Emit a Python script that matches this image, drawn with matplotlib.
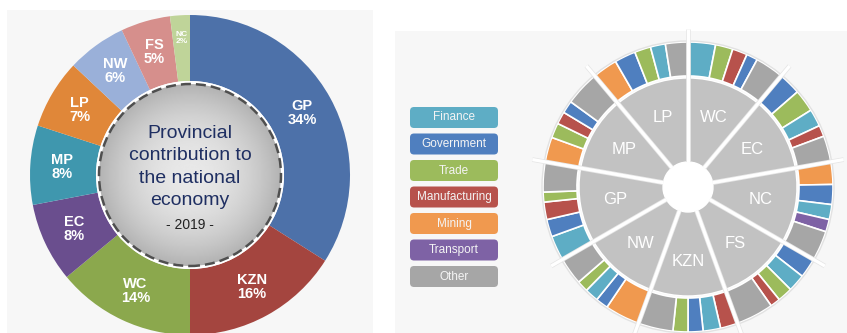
import numpy as np
import matplotlib
matplotlib.use("Agg")
import matplotlib.pyplot as plt
from matplotlib.patches import Circle, FancyBboxPatch, Rectangle
import matplotlib.patheffects as pe

plt.rcParams['font.family'] = ['Liberation Sans', 'DejaVu Sans']

W, H = 847, 333

# left donut: share of national GDP, clockwise from 12 o'clock
provinces = ["GP", "KZN", "WC", "EC", "MP", "LP", "NW", "FS", "NC"]
shares = [34, 16, 14, 8, 8, 7, 6, 5, 2]
province_colors = ["#4d71a9", "#a4453f", "#8ba84d", "#6a4e8e", "#3f97ae",
                   "#e08739", "#9ab0d9", "#d68f8c", "#bfd499"]

# right sunburst: sector mix per province, clockwise from 12 o'clock
ring_provinces = ["WC", "EC", "NC", "FS", "KZN", "NW", "GP", "MP", "LP"]
wc_mix = [("Finance", 11), ("Trade", 7), ("Manufacturing", 6), ("Government", 4.5), ("Other", 11.5)]
ec_mix = [("Government", 9), ("Trade", 9), ("Finance", 7), ("Manufacturing", 4.5), ("Other", 10.5)]
nc_mix = [("Mining", 9), ("Government", 8), ("Finance", 6), ("Transport", 5), ("Other", 12)]
fs_mix = [("Government", 8), ("Finance", 7), ("Trade", 6), ("Manufacturing", 4), ("Other", 15)]
kzn_mix = [("Manufacturing", 7), ("Finance", 7), ("Government", 6), ("Trade", 6), ("Other", 14)]
nw_mix = [("Mining", 14), ("Government", 5), ("Finance", 5.5), ("Trade", 4.5), ("Other", 11)]
gp_mix = [("Finance", 10), ("Government", 7), ("Manufacturing", 7), ("Trade", 4), ("Other", 12)]
mp_mix = [("Mining", 10), ("Trade", 6), ("Manufacturing", 5), ("Government", 5), ("Other", 14)]
lp_mix = [("Mining", 10), ("Government", 8.5), ("Trade", 6.5), ("Finance", 6), ("Other", 9)]
ring_mixes = [wc_mix, ec_mix, nc_mix, fs_mix, kzn_mix, nw_mix, gp_mix, mp_mix, lp_mix]

sectors = ["Finance", "Government", "Trade", "Manufacturing", "Mining", "Transport", "Other"]
sector_colors = ["#5eadc5", "#4f7fbf", "#9cbb5c", "#b7524c", "#f0994f", "#7e62a5", "#a6a6a6"]

fig = plt.figure(figsize=(W / 100, H / 100), dpi=100)
ax = fig.add_axes([0, 0, 1, 1])

# panel backgrounds
ax.add_patch(Rectangle((7, 0), 366, H - 10, facecolor="#f7f7f7", edgecolor="none", zorder=0))
ax.add_patch(Rectangle((395, 0), W - 395, H - 31, facecolor="#f7f7f7", edgecolor="none", zorder=0))

# ---- left donut ----
cx, cy, R = 190, 158, 160
wedges, _ = ax.pie(shares, colors=province_colors, startangle=90, counterclock=False,
                   center=(cx, cy), radius=R, frame=True,
                   wedgeprops=dict(width=R - 94, edgecolor="none"))
for w, name, s in zip(wedges, provinces, shares):
    t = np.deg2rad((w.theta1 + w.theta2) / 2)
    small = s <= 2
    r = 137 if small else 128
    ax.text(cx + r * np.cos(t), cy + r * np.sin(t), f"{name}\n{s}%",
            ha="center", va="center", color="white", fontweight="bold",
            fontsize=6 if small else 10.5, linespacing=1.0)

# center disc with grey radial gradient
rc = 91
ax.add_patch(Circle((cx, cy), 94, facecolor="white", edgecolor="none", zorder=2))
yy, xx = np.mgrid[-1:1:200j, -1:1:200j]
d = np.sqrt(xx ** 2 + yy ** 2)
grad = np.clip(0.91 - 0.21 * d ** 2, 0, 1)
img = ax.imshow(grad, cmap="gray", vmin=0, vmax=1, extent=[cx - rc, cx + rc, cy - rc, cy + rc],
                zorder=3, interpolation="bilinear")
img.set_clip_path(Circle((cx, cy), rc, transform=ax.transData))
ax.add_patch(Circle((cx, cy), rc, facecolor="none", edgecolor="#4f4f4f", linewidth=1.8,
                    linestyle=(0, (4, 2)), zorder=4))
ax.text(cx, cy + 8, "Provincial\ncontribution to\nthe national\neconomy", ha="center",
        va="center", fontsize=14, color="#1f2f62", linespacing=1.42, zorder=5)
ax.text(cx, cy - 50, "- 2019 -", ha="center", va="center", fontsize=10, color="#222222", zorder=5)

# ---- right sunburst ----
sx, sy = 688, 146
R_out, R_mid, R_hole = 145, 109, 25

outer_vals, outer_cols = [], []
for mix in ring_mixes:
    tot = sum(v for _, v in mix)
    for sec, v in mix:
        outer_vals.append(v / tot)
        outer_cols.append(sector_colors[sectors.index(sec)])

ax.pie(outer_vals, colors=outer_cols, startangle=90, counterclock=False, center=(sx, sy),
       radius=R_out, frame=True, wedgeprops=dict(width=R_out - 111, edgecolor="white", linewidth=1.2))
ax.add_patch(Circle((sx, sy), R_out + 1, facecolor="none", edgecolor="#e2e2e2", linewidth=1))

inner, _ = ax.pie([1] * len(ring_provinces), colors=["#c2c2c2"] * len(ring_provinces),
                  startangle=90, counterclock=False, center=(sx, sy), radius=R_mid, frame=True,
                  wedgeprops=dict(width=R_mid - R_hole, edgecolor="white", linewidth=1))
for w, name in zip(inner, ring_provinces):
    t = np.deg2rad((w.theta1 + w.theta2) / 2)
    ax.text(sx + 74 * np.cos(t), sy + 74 * np.sin(t), name, ha="center", va="center",
            color="white", fontsize=12)
    t0 = np.deg2rad(w.theta1)
    ax.plot([sx + R_hole * np.cos(t0), sx + 158 * np.cos(t0)],
            [sy + R_hole * np.sin(t0), sy + 158 * np.sin(t0)],
            color="white", linewidth=2.3, solid_capstyle="butt", zorder=6,
            path_effects=[pe.Stroke(linewidth=3.4, foreground="#e6e6e6"), pe.Normal()])
ax.add_patch(Circle((sx, sy), R_hole, facecolor="white", edgecolor="none", zorder=7))

# legend boxes
for i, (sec, col) in enumerate(zip(sectors, sector_colors)):
    top = 107 + 26.5 * i
    ax.add_patch(FancyBboxPatch((410, H - top - 21), 88, 21,
                                boxstyle="round,pad=0,rounding_size=4",
                                facecolor=col, edgecolor="none", zorder=5))
    ax.text(454, H - top - 10.5, sec, ha="center", va="center", color="#f4f4f4",
            fontsize=8.5, zorder=6)

ax.set_xlim(0, W)
ax.set_ylim(0, H)
ax.set_aspect("equal")
ax.axis("off")

fig.savefig("out.png", dpi=100, facecolor="white")
